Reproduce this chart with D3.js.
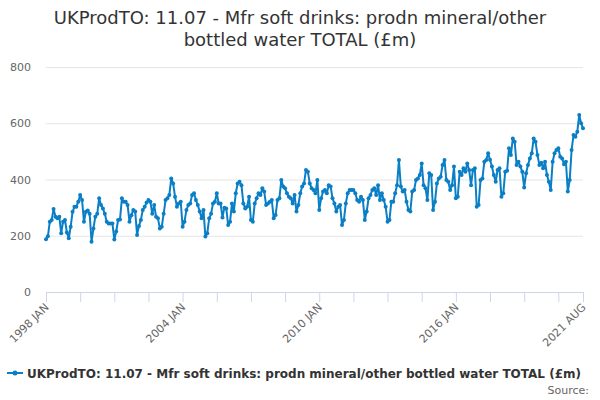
<!DOCTYPE html>
<html><head><meta charset="utf-8">
<script src="https://cdn.jsdelivr.net/npm/d3@7"></script>
<style>body{margin:0;background:#fff}svg{display:block}</style>
</head><body>
<svg id="c" width="600" height="400"></svg>
<script>
const titleLines = ["UKProdTO: 11.07 - Mfr soft drinks: prodn mineral/other", "bottled water TOTAL (£m)"];
const seriesName = "UKProdTO: 11.07 - Mfr soft drinks: prodn mineral/other bottled water TOTAL (£m)";
const startYear = 1998;
const monthNames = ["JAN","FEB","MAR","APR","MAY","JUN","JUL","AUG","SEP","OCT","NOV","DEC"];
const yTicks = [0, 200, 400, 600, 800];
const labelledTicks = ["1998 JAN", "2004 JAN", "2010 JAN", "2016 JAN", "2021 AUG"];
const values = [
188,198,250,256,295,268,262,268,209,250,256,212,
191,232,285,303,303,321,345,327,250,285,290,278,
179,226,268,278,333,309,297,278,250,244,244,244,
187,215,256,258,333,321,321,309,250,273,292,286,
203,235,256,292,303,318,327,321,278,309,268,262,
226,232,278,327,333,345,404,386,339,303,315,321,
232,250,292,309,315,345,351,327,309,286,262,292,
197,209,262,278,315,321,351,315,315,265,300,297,
238,250,315,286,351,386,392,380,315,297,303,339,
256,250,315,333,351,345,369,357,309,315,321,327,
262,274,327,333,398,375,369,351,339,333,315,345,
286,309,351,375,386,434,428,386,369,363,351,398,
292,333,357,363,351,380,375,333,315,286,303,309,
238,256,315,351,363,363,363,351,327,321,339,327,
256,286,333,345,363,369,345,380,327,351,327,303,
250,256,321,321,351,380,469,375,357,363,321,292,
286,357,363,398,404,416,457,380,369,327,422,416,
292,321,386,404,410,452,469,398,392,363,380,446,
333,339,428,416,440,428,457,434,380,434,440,303,
309,398,404,463,469,493,470,446,416,392,434,440,
339,351,428,431,511,487,546,534,452,463,446,428,
372,422,452,475,493,546,534,487,452,460,440,463,
416,392,363,463,493,505,511,481,475,454,463,357,
398,505,558,552,570,629,600,582
];
const categories = values.map((v, i) => (startYear + Math.floor(i / 12)) + " " + monthNames[i % 12]);

const svg = d3.select("#c");
const font = "'DejaVu Sans', sans-serif";
const mLeft = 46, mRight = 583, mTop = 67, mBottom = 292;

const x = d3.scaleLinear().domain([0, values.length - 1]).range([mLeft, mRight]);
const y = d3.scaleLinear().domain([0, 800]).range([mBottom, mTop]);

// title
svg.append("text").attr("x", 300).attr("y", 24).attr("text-anchor", "middle")
  .style("font-family", font).style("font-size", "18px").attr("fill", "#333")
  .selectAll("tspan").data(titleLines).join("tspan")
  .attr("x", 300).attr("dy", (d, i) => i ? 22 : 0).text(d => d);

// grid + y labels
const yAxis = d3.axisLeft(y).tickValues(yTicks).tickSize(-(mRight - mLeft)).tickPadding(15);
const gy = svg.append("g").attr("transform", `translate(${mLeft},0)`).call(yAxis);
gy.select(".domain").remove();
gy.selectAll(".tick line").attr("stroke", "#e6e6e6");
gy.selectAll(".tick text").style("font-family", font).style("font-size", "11px").attr("fill", "#666");

// x axis
const tickIdx = d3.range(0, values.length, 18).concat([values.length - 1]);
const xAxis = d3.axisBottom(x).tickValues(tickIdx).tickSize(10)
  .tickFormat(i => labelledTicks.includes(categories[i]) ? categories[i] : "");
const gx = svg.append("g").attr("transform", `translate(0,${mBottom})`).call(xAxis);
gx.select(".domain").attr("stroke", "#ccd6eb").attr("d", `M${mLeft},0.5H${mRight}`);
gx.selectAll(".tick line").attr("stroke", "#ccd6eb");
gx.selectAll(".tick text").style("font-family", font).style("font-size", "11px").attr("fill", "#666")
  .attr("text-anchor", "end").attr("dy", 0).attr("y", 0)
  .attr("transform", "translate(3,16) rotate(-45)");

// line
const line = d3.line().x((d, i) => x(i)).y(d => y(d));
svg.append("path").datum(values).attr("d", line).attr("fill", "none")
  .attr("stroke", "#0a7fc6").attr("stroke-width", 2).attr("stroke-linejoin", "round");
svg.append("g").selectAll("circle").data(values).join("circle")
  .attr("cx", (d, i) => x(i)).attr("cy", d => y(d)).attr("r", 2).attr("fill", "#0a7fc6");

// legend
const lg = svg.append("g");
lg.append("line").attr("x1", 7).attr("x2", 23).attr("y1", 373).attr("y2", 373)
  .attr("stroke", "#0a7fc6").attr("stroke-width", 2);
lg.append("circle").attr("cx", 15).attr("cy", 373).attr("r", 2.5).attr("fill", "#0a7fc6");
lg.append("text").attr("x", 27).attr("y", 377.5).text(seriesName)
  .style("font-family", font).style("font-size", "12px").style("font-weight", "bold").attr("fill", "#333");

svg.append("text").attr("x", 589).attr("y", 394).attr("text-anchor", "end").text("Source:")
  .style("font-family", font).style("font-size", "11px").attr("fill", "#666");
</script>
</body></html>
